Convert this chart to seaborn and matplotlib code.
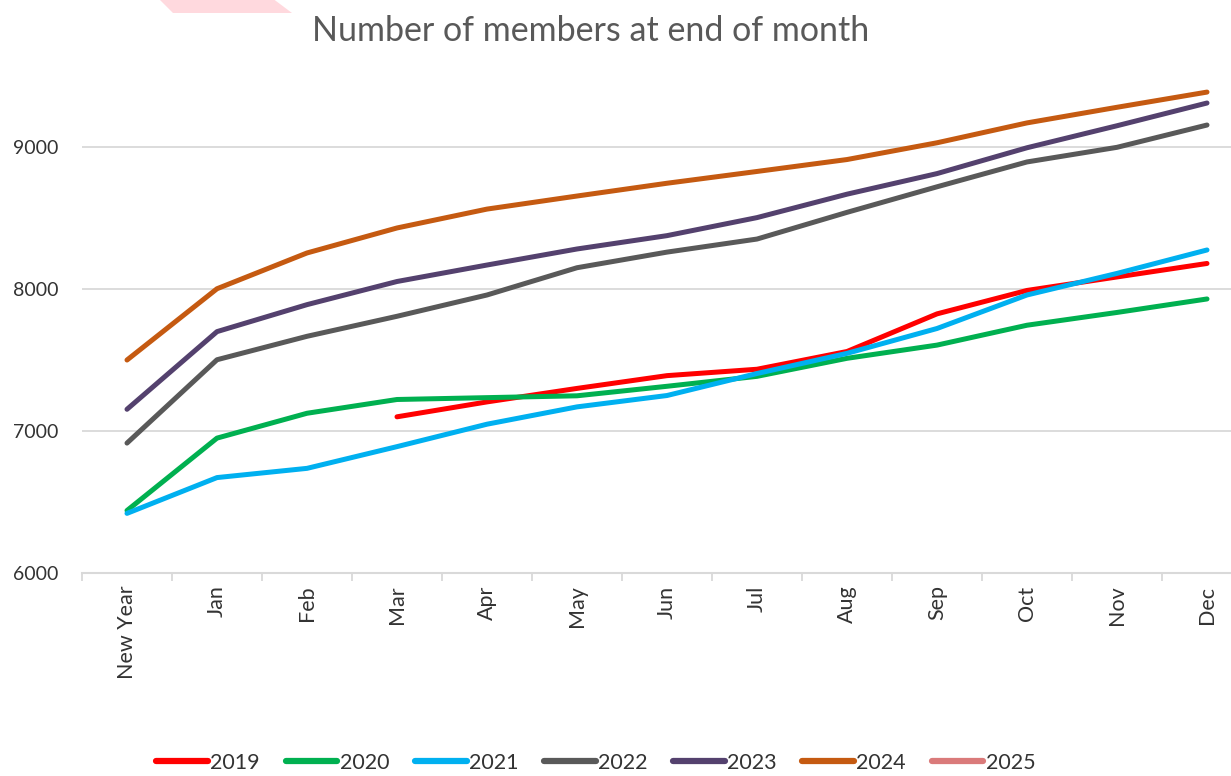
import numpy as np
import pandas as pd
import matplotlib
matplotlib.use('Agg')
import matplotlib.pyplot as plt
from matplotlib.lines import Line2D
from matplotlib.patches import Polygon
import seaborn as sns

months = ['New Year', 'Jan', 'Feb', 'Mar', 'Apr', 'May', 'Jun',
          'Jul', 'Aug', 'Sep', 'Oct', 'Nov', 'Dec']
nan = np.nan
m2019 = [nan, nan, nan, 7100, 7205, 7300, 7390, 7435, 7560, 7825, 7990, 8085, 8180]
m2020 = [6440, 6950, 7125, 7222, 7235, 7248, 7315, 7385, 7512, 7605, 7745, 7835, 7930]
m2021 = [6420, 6672, 6737, 6890, 7048, 7170, 7250, 7405, 7547, 7722, 7958, 8110, 8275]
m2022 = [6915, 7502, 7667, 7808, 7958, 8150, 8260, 8352, 8540, 8720, 8895, 8998, 9155]
m2023 = [7153, 7700, 7890, 8053, 8169, 8282, 8376, 8503, 8668, 8813, 8995, 9150, 9310]
m2024 = [7500, 8002, 8254, 8430, 8563, 8655, 8745, 8828, 8912, 9030, 9170, 9280, 9387]
m2025 = []  # no data yet, legend only

years = ['2019', '2020', '2021', '2022', '2023', '2024', '2025']
series = [m2019, m2020, m2021, m2022, m2023, m2024, m2025]
colors = ['#FF0000', '#00B050', '#00B0F0', '#595959', '#54416E', '#C55A11', '#DA7A7A']
palette = dict(zip(years, colors))

rows = []
for yr, vals in zip(years, series):
    for i, v in enumerate(vals):
        rows.append({'year': yr, 'pos': i, 'members': v})
df = pd.DataFrame(rows).dropna()

sns.set_theme(style='white')
plt.rcParams['font.family'] = ['Lato', 'DejaVu Sans']

fig = plt.figure(figsize=(12.31, 7.76), dpi=100)
ax = fig.add_axes([82 / 1231, 1 - 573 / 776, 1 - 82 / 1231, (573 - 60) / 776])

sns.lineplot(data=df, x='pos', y='members', hue='year', palette=palette,
             hue_order=years[:6], linewidth=3.6, solid_capstyle='round',
             legend=False, ax=ax)

ax.set_yticks([6000, 7000, 8000, 9000])
ax.set_xticks(range(len(months)))
ax.set_xticklabels(months)
ax.set_xticks(np.arange(-0.5, 13, 1), minor=True)
# limits after ticks, so the minor ticks don't widen the view
ax.set_xlim(-0.5, -0.5 + (1231 - 82) / 90)
ax.set_ylim(6000, 9613)
ax.set_xlabel('')
ax.set_ylabel('')

ax.yaxis.grid(True, color='#D9D9D9', linewidth=1.3)
ax.set_axisbelow(True)
for s in ['top', 'right', 'left']:
    ax.spines[s].set_visible(False)
ax.spines['bottom'].set_color('#D9D9D9')
ax.spines['bottom'].set_linewidth(1.5)

ax.tick_params(axis='x', which='major', length=0, pad=9, labelrotation=90,
               labelsize=15.5, labelcolor='#333333')
ax.tick_params(axis='x', which='minor', length=6, width=1.3, color='#D9D9D9',
               direction='out', bottom=True)
ax.tick_params(axis='y', length=0, pad=17, labelsize=14, labelcolor='#333333')

fig.text(0.48, 1 - 31 / 776, 'Number of members at end of month',
         ha='center', va='center', fontsize=24.5, color='#595959')

handles = [Line2D([0], [0], color=c, linewidth=4.5, solid_capstyle='round') for c in colors]
fig.legend(handles, years, loc='center', bbox_to_anchor=(0.484, 0.017), ncol=7,
           frameon=False, fontsize=15.5, handlelength=2.4, handletextpad=0.1,
           columnspacing=1.2, labelcolor='#333333', borderpad=0.1)

# light pink banner fragment at top edge
pts = [(158, -2), (272, -2), (292, 13), (173, 13)]
fig.patches.append(Polygon([(x / 1231, 1 - y / 776) for x, y in pts],
                           closed=True, facecolor='#FFD9DE', edgecolor='none',
                           transform=fig.transFigure, figure=fig))

fig.savefig('out.png', dpi=100)
